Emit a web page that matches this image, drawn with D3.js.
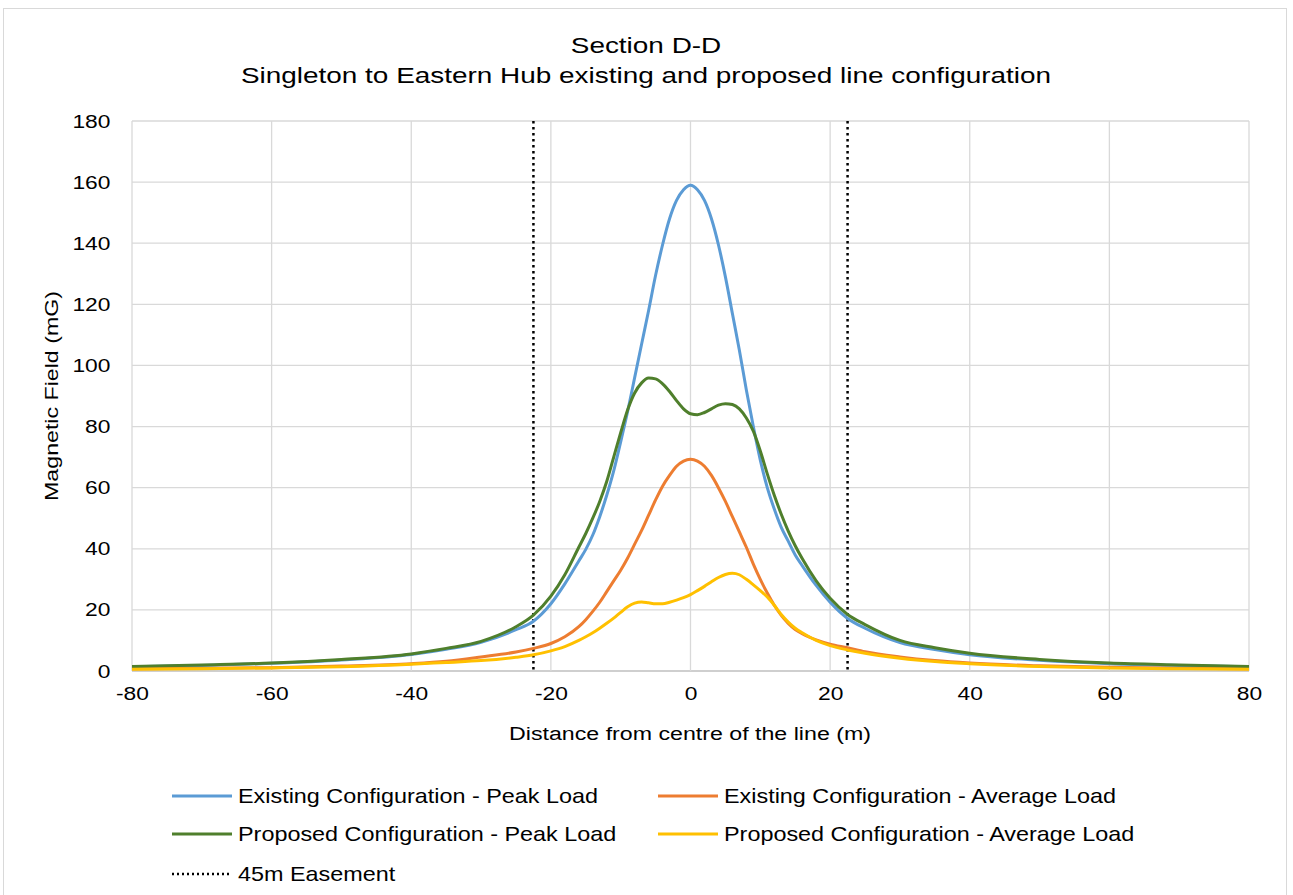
<!DOCTYPE html>
<html>
<head>
<meta charset="utf-8">
<script src="https://cdn.jsdelivr.net/npm/d3@7"></script>
<style>
body { margin:0; background:#fff; }
text { font-family: Arial, "Liberation Sans", sans-serif; fill:#000; }
</style>
</head>
<body>
<script>
// distances (m) used by each series
var distances = [-80,-70,-60,-50,-40,-35,-30,-25,-22.5,-20,-18,
  -16,-15,-14,-13,-12,-11,-10,-9,-8,-7,-6,-5,-4,-3,-2,-1,0,1,2,3,4,5,6,7,8,9,10,11,12,13,14,15,16,
  18,20,22.5,25,30,35,40,50,60,70,80];

var existingPeak = [1.4,1.8,2.5,3.6,5.4,7.1,9.4,13.5,16.3,22,28.5,
  36,39.8,44.5,50.5,57.5,65.5,75,85,96,107,118,129.5,139.5,148,154,157.5,159,157.5,154,148,139.5,129,117,105,92,80,69,60,53,47,42.5,38,34.5,
  28,22.5,17.2,14,9.3,7,5.3,3.5,2.4,1.8,1.4];
var existingAvg = [0.7,0.9,1.1,1.6,2.4,3.2,4.6,6.2,7.4,9,11.2,
  14.5,16.8,19.5,22.5,26,29.5,33,37,41.5,46,51,56,60.5,64,67,68.7,69.3,68.7,67,64,60,55.5,50.5,45.5,40.5,35,30,25.5,21.5,18.2,15.6,13.6,12.2,
  10.2,8.8,7.6,6.3,4.6,3.4,2.6,1.7,1.2,0.9,0.7];
var proposedPeak = [1.5,2,2.6,3.8,5.6,7.4,9.7,14.5,18.3,24.5,31.5,
  40.5,45,50,55.5,62,70,78,85.5,91,94.3,95.9,95.6,94,91.5,88.5,85.8,84.2,83.9,84.6,85.8,87,87.5,87.2,85.8,82.8,78.5,72,64.5,57.5,51.3,45.8,41,36.8,
  29.5,23.8,18.5,15.2,10,7.6,5.8,3.8,2.6,2,1.5];
var proposedAvg = [0.6,0.75,1,1.4,2.2,2.8,3.4,4.5,5.3,6.6,8,
  10,11.2,12.5,14,15.6,17.3,19.2,21,22.2,22.6,22.3,22,22,22.5,23.2,24,25,26.3,27.7,29.2,30.6,31.6,32,31.5,30,28.2,26.3,24.2,21.5,18.5,16,14,12.5,
  10,8.3,6.9,5.8,4.2,3.1,2.4,1.5,1,0.75,0.6];

var easement = [-22.5, 22.5];
var xTicks = [-80,-60,-40,-20,0,20,40,60,80];
var yTicks = [0,20,40,60,80,100,120,140,160,180];

var seriesNames = ["Existing Configuration - Peak Load","Existing Configuration - Average Load","Proposed Configuration - Peak Load","Proposed Configuration - Average Load"];
var seriesColors = ["#5b9bd5","#ed7d31","#4f7f2c","#ffc000"];
var seriesValues = [existingPeak, existingAvg, proposedPeak, proposedAvg];

var width = 1293, height = 895;
var margin = {left:132, right:44, top:121, bottom:224};
var w = width - margin.left - margin.right;
var h = height - margin.top - margin.bottom;

var svg = d3.select("body").append("svg")
    .attr("width", width).attr("height", height);

// text is drawn a little wider than Arial, like the original
function label(px, py, str, size, anchor, sx){
  return svg.append("text")
    .attr("transform","translate("+px+","+py+") scale("+sx+",1)")
    .attr("text-anchor", anchor)
    .attr("font-size", size+"px")
    .text(str);
}

// outer chart border
svg.append("rect").attr("x",3.5).attr("y",8.5).attr("width",1283).attr("height",890)
    .attr("fill","none").attr("stroke","#d9d9d9");

var x = d3.scaleLinear().domain([-80,80]).range([0,w]);
var y = d3.scaleLinear().domain([0,180]).range([h,0]);

var g = svg.append("g").attr("transform","translate("+margin.left+","+margin.top+")");

// grid
g.append("g").selectAll("line").data(yTicks).enter().append("line")
    .attr("x1",0).attr("x2",w).attr("y1",function(d){ return y(d); }).attr("y2",function(d){ return y(d); })
    .attr("stroke", function(d){ return d===0 ? "#bfbfbf" : "#d9d9d9"; }).attr("stroke-width",1.3);
g.append("g").selectAll("line").data(xTicks).enter().append("line")
    .attr("y1",0).attr("y2",h).attr("x1",function(d){ return x(d); }).attr("x2",function(d){ return x(d); })
    .attr("stroke","#d9d9d9").attr("stroke-width",1.3);

// axes (labels only) - plain hyphen for negatives
var plain = function(d){ return String(d); };
var xAxis = d3.axisBottom(x).tickValues(xTicks).tickFormat(plain).tickSize(0).tickPadding(16);
var yAxis = d3.axisLeft(y).tickValues(yTicks).tickFormat(plain).tickSize(0).tickPadding(18);
var gx = g.append("g").attr("transform","translate(0,"+h+")").call(xAxis);
var gy = g.append("g").call(yAxis);
[gx,gy].forEach(function(a){
  a.select(".domain").remove();
  a.selectAll("text").attr("font-size","19px").attr("font-family","Arial, 'Liberation Sans', sans-serif")
    .attr("fill","#000").attr("transform","scale(1.2,1)");
});

// easement lines
g.selectAll(".ease").data(easement).enter().append("line")
    .attr("class","ease")
    .attr("x1",function(d){ return x(d); }).attr("x2",function(d){ return x(d); })
    .attr("y1",0).attr("y2",h)
    .attr("stroke","#000").attr("stroke-width",2.5).attr("stroke-dasharray","2.5,3.5");

// series
var line = d3.line()
    .x(function(d){ return x(d[0]); })
    .y(function(d){ return y(d[1]); })
    .curve(d3.curveMonotoneX);

seriesValues.forEach(function(vals,i){
  g.append("path")
    .datum(distances.map(function(d,j){ return [d, vals[j]]; }))
    .attr("d", line)
    .attr("fill","none")
    .attr("stroke", seriesColors[i])
    .attr("stroke-width", 3);
});

// titles
label(646, 53, "Section D-D", 22, "middle", 1.27);
label(646, 83, "Singleton to Eastern Hub existing and proposed line configuration", 22, "middle", 1.27);
label(690, 740, "Distance from centre of the line (m)", 19, "middle", 1.22);
svg.append("text").attr("transform","translate(58,396) rotate(-90) scale(1.22,1)")
   .attr("text-anchor","middle").attr("font-size","19px").text("Magnetic Field (mG)");

// legend
var legendPos = [[172,796],[658,796],[172,834],[658,834]];
seriesNames.forEach(function(name,i){
  var p = legendPos[i];
  svg.append("line").attr("x1",p[0]).attr("x2",p[0]+60).attr("y1",p[1]).attr("y2",p[1])
     .attr("stroke",seriesColors[i]).attr("stroke-width",3);
  label(p[0]+66, p[1]+7, name, 20, "start", 1.17);
});
svg.append("line").attr("x1",172).attr("x2",230).attr("y1",874).attr("y2",874)
   .attr("stroke","#000").attr("stroke-width",2.5).attr("stroke-dasharray","2,3");
label(238, 881, "45m Easement", 20, "start", 1.17);
</script>
</body>
</html>
